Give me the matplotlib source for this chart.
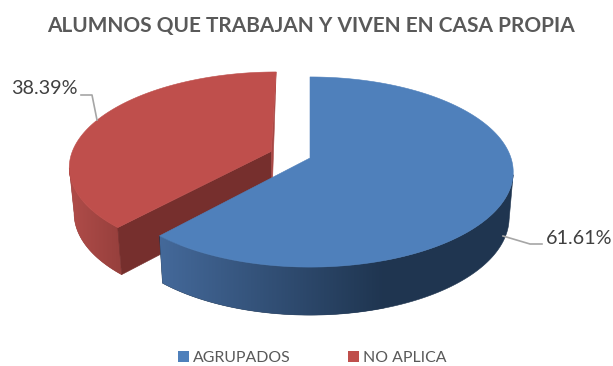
import numpy as np
import matplotlib
matplotlib.use("Agg")
import matplotlib.pyplot as plt
from matplotlib.colors import LinearSegmentedColormap
from matplotlib.patches import Polygon, Patch

title = "ALUMNOS QUE TRABAJAN Y VIVEN EN CASA PROPIA"
categories = ["AGRUPADOS", "NO APLICA"]
shares = [61.61, 38.39]
labels = ["61.61%", "38.39%"]

blue_top = "#4f80bb"
red_top = "#bf4f4c"
text_col = "#595959"
leader_col = "#a6a6a6"

# pie centre and tilt, in pixels
CX, CY = 310, 158
A, B, K = 201, 93, 0.1475


def project(u, v, lift=0.0):
    # lift 0 is the top rim, 1 is the bottom rim
    s = 1 / (1 + K * v)
    x = CX + A * u * s
    y = CY - B * v * s
    depth = 45 - 3 * v
    x = CX + (x - CX) * (1 - 0.02 * lift)
    return x, y + depth * lift


def rim(t, lift=0.0, off=(0, 0), r=1.0):
    u = off[0] + r * np.sin(t)
    v = off[1] + r * np.cos(t)
    return project(u, v, lift)


def draw_wall(ax, t0, t1, off, r, cols, x0, x1, z):
    # outline of the wall, filled with a left to right gradient
    ts = np.linspace(t0, t1, 200)
    xt, yt = rim(ts, 0, off, r)
    xb, yb = rim(ts[::-1], 1, off, r)
    pts = np.column_stack([np.r_[xt, xb], np.r_[yt, yb]])
    # the gradient stops at x1, the rest stays in the last colour
    ax.add_patch(Polygon(pts, fc=cols[-1], ec=cols[-1], lw=0.4, zorder=z - 0.5))
    clip = Polygon(pts, fc="none", ec="none", transform=ax.transData)
    ax.add_patch(clip)
    cmap = LinearSegmentedColormap.from_list("wall", cols)
    im = ax.imshow(np.linspace(0, 1, 256)[None, :], cmap=cmap, aspect="auto",
                   extent=[x0, x1, yb.max() + 2, yt.min() - 2], zorder=z)
    im.set_clip_path(clip)


def draw_top(ax, t0, t1, off, r, col, z):
    ts = np.linspace(t0, t1, 200)
    x, y = rim(ts, 0, off, r)
    ax0, ay0 = project(off[0], off[1])
    pts = [(ax0, ay0)] + list(zip(x, y))
    ax.add_patch(Polygon(pts, fc=col, ec=col, lw=0.4, zorder=z))


fig = plt.figure(figsize=(6.13, 3.66), dpi=100)
ax = fig.add_axes([0, 0, 1, 1])
ax.axis("off")
plt.rcParams["font.family"] = "Lato"

split = 2 * np.pi * shares[0] / sum(shares)
mid = (split + 2 * np.pi) / 2
e = 0.2
off = (e * np.sin(mid) - 0.008, e * np.cos(mid))
r_red = 1.0

# red slice, exploded
draw_wall(ax, split, 1.444 * np.pi, off, r_red, ["#b04c49", "#97403d"], 70, 120, 1)
p0 = project(off[0], off[1])
p1 = project(off[0], off[1], 1)
c0 = rim(split, 0, off, r_red)
c1 = rim(split, 1, off, r_red)
ax.add_patch(Polygon([p0, c0, c1, p1], fc="#762f2d", ec="#762f2d", lw=0.4, zorder=2))
t0 = rim(2 * np.pi, 0, off, r_red)
ax.add_patch(Polygon([t0, p0, p1], fc="#a84744", ec="#a84744", lw=0.4, zorder=2))
draw_top(ax, split, 2 * np.pi, off, r_red, red_top, 3)

# blue slice
draw_wall(ax, 0.556 * np.pi, split, (0, 0), 1.0, ["#44699a", "#1f3550"], 160, 385, 5)
draw_top(ax, 0, split, (0, 0), 1.0, blue_top, 6)

# leader lines
ax.plot([503, 530, 542], [236, 244, 244], color=leader_col, lw=1.2, zorder=7)
ax.plot([81, 92, 97], [95, 95, 120], color=leader_col, lw=1.2, zorder=7)

ax.text(546, 238, labels[0], fontsize=14.2, color="#404040", va="center", ha="left")
ax.text(11, 89, labels[1], fontsize=14.2, color="#404040", va="center", ha="left")
ax.text(310.5, 26, title, fontsize=15.05, fontweight="bold", color=text_col,
        va="center", ha="center")

ax.set_xlim(0, 613)
ax.set_ylim(366, 0)

handles = [Patch(fc=blue_top), Patch(fc=red_top)]
ax.legend(handles, categories, loc="center", bbox_to_anchor=(312.5, 358),
          bbox_transform=ax.transData, ncol=2, frameon=False, fontsize=11.4,
          labelcolor=text_col, handlelength=0.66, handleheight=0.66,
          handletextpad=0.3, columnspacing=3.6)

fig.savefig("out.png", dpi=100)
